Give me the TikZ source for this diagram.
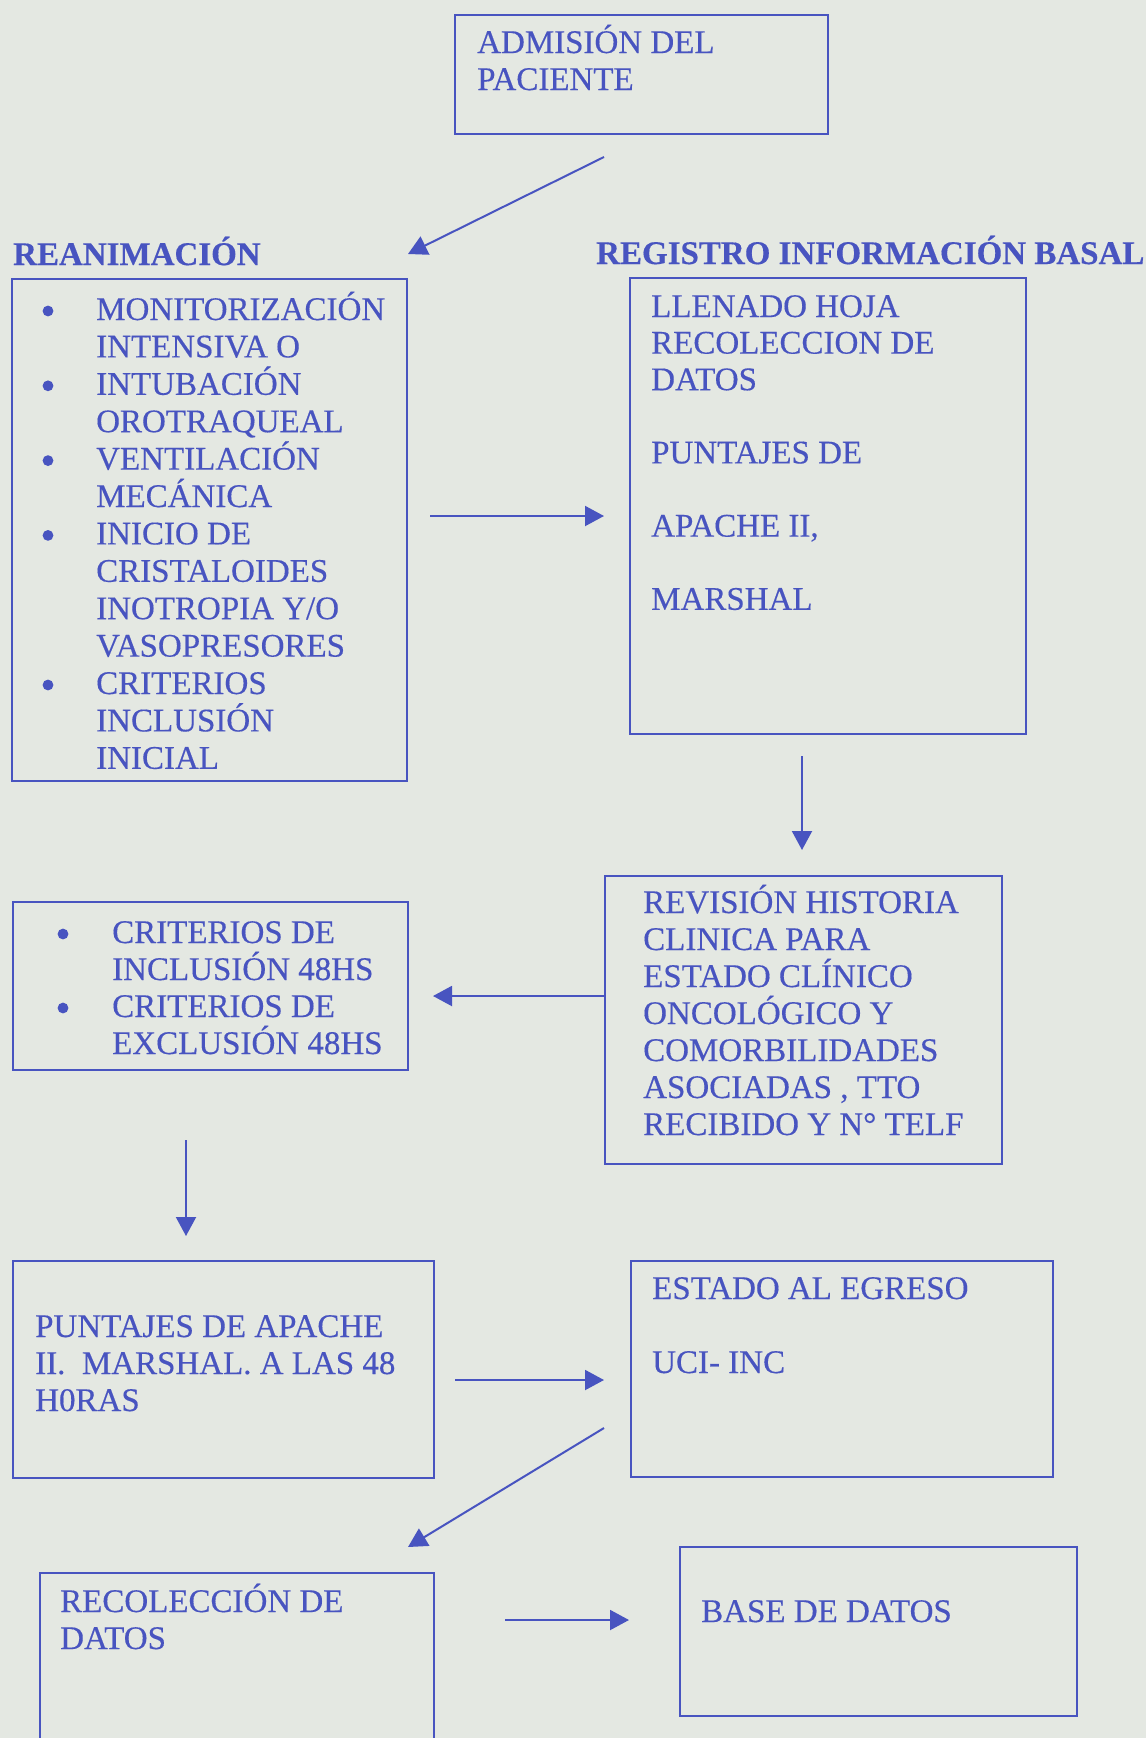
\documentclass[tikz,border=0pt]{standalone}
\usepackage{fontspec}
\setmainfont{Liberation Serif}[FakeBold=0.35]
\usetikzlibrary{arrows.meta}
\definecolor{ink}{RGB}{72,84,192}
\definecolor{paper}{RGB}{228,232,226}
\newcommand{\ml}[1]{\vtop{\lineskiplimit=-100pt\lineskip=0pt\halign{##\hfil\cr#1\crcr}}}
\newcommand{\ind}{\hspace*{54pt}}
\newcommand{\indb}{\hspace*{55pt}}
\begin{document}
\begin{tikzpicture}[x=1pt,y=-1pt,
  box/.style={draw=ink, line width=2pt, inner sep=0pt, anchor=north west},
  txt/.style={text=ink, anchor=base west, inner sep=0pt, font=\fontsize{33}{37}\selectfont},
  ttl/.style={text=ink, anchor=base west, inner sep=0pt, font=\fontsize{33}{37}\selectfont\bfseries},
  dot/.style={fill=ink},
  arr/.style={draw=ink, line width=2pt, -{Triangle[length=19pt,width=20pt]}}]
\useasboundingbox (0,0) rectangle (1146,1738);
\fill[paper] (0,0) rectangle (1146,1738);

% boxes
\node[box, minimum width=373pt, minimum height=119pt] (adm) at (454,14) {};
\node[box, minimum width=395pt, minimum height=502pt] (rean) at (11,278) {};
\node[box, minimum width=396pt, minimum height=456pt] (reg) at (629,277) {};
\node[box, minimum width=397pt, minimum height=288pt] (rev) at (604,875) {};
\node[box, minimum width=395pt, minimum height=168pt] (crit) at (12,901) {};
\node[box, minimum width=421pt, minimum height=217pt] (punt) at (12,1260) {};
\node[box, minimum width=422pt, minimum height=216pt] (est) at (630,1260) {};
\node[box, minimum width=394pt, minimum height=200pt] (rec) at (39,1572) {};
\node[box, minimum width=397pt, minimum height=169pt] (base) at (679,1546) {};

% texts
\node[txt] (tadm) at (477,53) {\ml{ADMISIÓN DEL\cr PACIENTE}};
\node[ttl] (trean) at (13,265) {REANIMACIÓN};
\node[ttl] (treg) at (596,264) {REGISTRO INFORMACIÓN BASAL};
\node[txt, font=\fontsize{33}{37.4}\selectfont] (lrean) at (96,320) {\ml{%
MONITORIZACIÓN\cr INTENSIVA O\cr
INTUBACIÓN\cr OROTRAQUEAL\cr
VENTILACIÓN\cr MECÁNICA\cr
INICIO DE\cr CRISTALOIDES\cr INOTROPIA Y/O\cr VASOPRESORES\cr
CRITERIOS\cr INCLUSIÓN\cr INICIAL}};
\node[txt, font=\fontsize{33}{36.6}\selectfont] (lreg) at (651,317) {\ml{%
LLENADO HOJA\cr RECOLECCION DE\cr DATOS\cr \cr PUNTAJES DE\cr \cr APACHE II,\cr \cr MARSHAL}};
\node[txt] (lrev) at (643,913) {\ml{%
REVISIÓN HISTORIA\cr CLINICA PARA\cr ESTADO CLÍNICO\cr ONCOLÓGICO Y\cr COMORBILIDADES\cr ASOCIADAS , TTO\cr RECIBIDO Y N° TELF}};
\node[txt] (lcrit) at (112,943) {\ml{%
CRITERIOS DE\cr INCLUSIÓN 48HS\cr
CRITERIOS DE\cr EXCLUSIÓN 48HS}};
\node[txt] (lpunt) at (35,1337) {\ml{PUNTAJES DE APACHE\cr II.\ \ MARSHAL. A LAS 48\cr H0RAS}};
\node[txt] (lest) at (652,1299) {\ml{ESTADO AL EGRESO\cr \cr UCI- INC}};
\node[txt] (lrec) at (60,1612) {\ml{RECOLECCIÓN DE\cr DATOS}};
\node[txt] (lbase) at (701,1622) {BASE DE DATOS};

% bullets
\foreach \yy in {320,394.8,469.6,544.4,694} \fill[dot] (48,\yy-9) circle (5.4pt);
\foreach \yy in {943,1017} \fill[dot] (63,\yy-9) circle (5.4pt);

% arrow end points
\coordinate (a1s) at (604,157);  \coordinate (a1e) at (408,254);
\coordinate (a2s) at (430,516);  \coordinate (a2e) at (604,516);
\coordinate (a3s) at (802,756);  \coordinate (a3e) at (802,850);
\coordinate (a4s) at (605,996);  \coordinate (a4e) at (433,996);
\coordinate (a5s) at (186,1140); \coordinate (a5e) at (186,1236);
\coordinate (a6s) at (455,1380); \coordinate (a6e) at (604,1380);
\coordinate (a7s) at (604,1428); \coordinate (a7e) at (408,1547);
\coordinate (a8s) at (505,1620); \coordinate (a8e) at (629,1620);

\draw[arr] (a1s) -- (a1e);
\draw[arr] (a2s) -- (a2e);
\draw[arr] (a3s) -- (a3e);
\draw[arr] (a4s) -- (a4e);
\draw[arr] (a5s) -- (a5e);
\draw[arr] (a6s) -- (a6e);
\draw[arr] (a7s) -- (a7e);
\draw[arr] (a8s) -- (a8e);
\end{tikzpicture}
\end{document}
